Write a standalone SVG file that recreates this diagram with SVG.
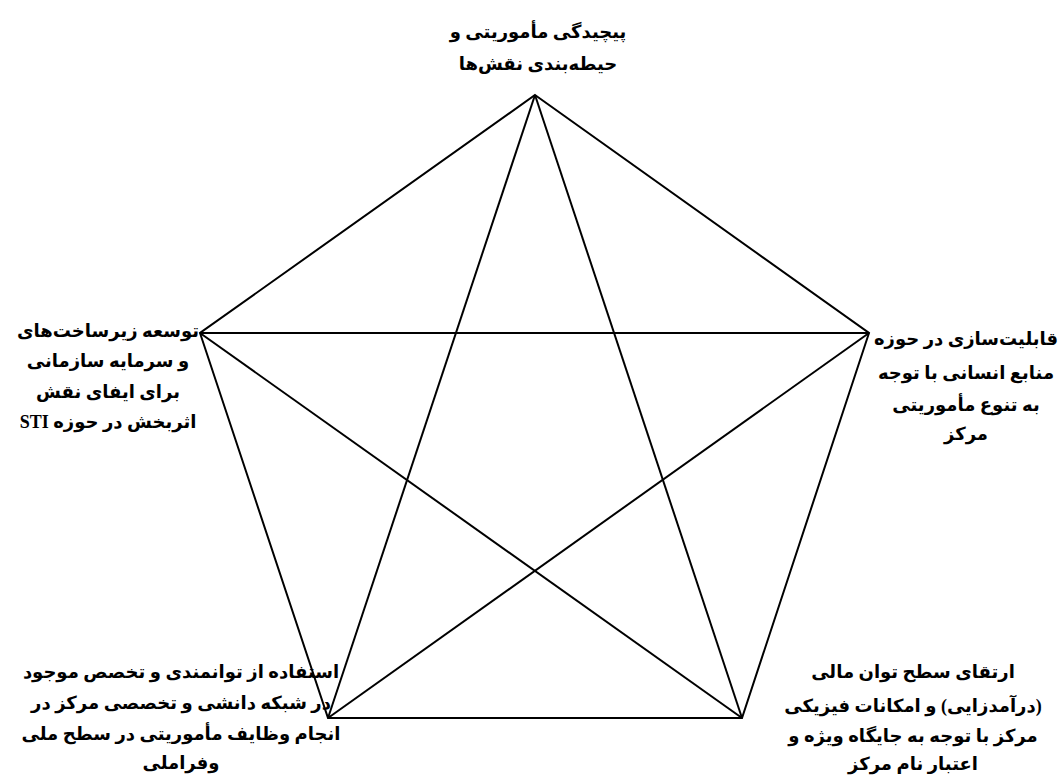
<svg xmlns="http://www.w3.org/2000/svg" width="1061" height="780" viewBox="0 0 1061 780">
<style>
.t{font-family:"Liberation Serif","DejaVu Sans",serif;font-weight:bold;font-size:18px;fill:#000;text-anchor:middle;direction:rtl;unicode-bidi:embed}
.e{stroke:#000;stroke-width:2;fill:none}
</style>
<rect width="1061" height="780" fill="#fff"/>
<g id="connectors">
<polygon class="e" points="535,95 869,333 742,718 328,718 200,333"/>
<line class="e" x1="535" y1="95" x2="328" y2="718"/>
<line class="e" x1="535" y1="95" x2="742" y2="718"/>
<line class="e" x1="200" y1="333" x2="869" y2="333"/>
<line class="e" x1="200" y1="333" x2="742" y2="718"/>
<line class="e" x1="869" y1="333" x2="328" y2="718"/>
</g>
<g id="node-top">
<text class="t" x="538" y="38">پیچیدگی مأموریتی و</text>
<text class="t" x="538" y="70">حیطه‌بندی نقش‌ها</text>
</g>
<g id="node-left">
<text class="t" x="108" y="337">توسعه زیرساخت‌های</text>
<text class="t" x="108" y="367">و سرمایه سازمانی</text>
<text class="t" x="108" y="398">برای ایفای نقش</text>
<text class="t" x="108" y="428">اثربخش در حوزه STI</text>
</g>
<g id="node-right">
<text class="t" x="966" y="345">قابلیت‌سازی در حوزه</text>
<text class="t" x="966" y="379">منابع انسانی با توجه</text>
<text class="t" x="966" y="411">به تنوع مأموریتی</text>
<text class="t" x="966" y="440">مرکز</text>
</g>
<g id="node-bottom-left">
<text class="t" x="181" y="678">استفاده از توانمندی و تخصص موجود</text>
<text class="t" x="181" y="709">در شبکه دانشی و تخصصی مرکز در</text>
<text class="t" x="181" y="740">انجام وظایف مأموریتی در سطح ملی</text>
<text class="t" x="181" y="769">وفراملی</text>
</g>
<g id="node-bottom-right">
<text class="t" x="913" y="678">ارتقای سطح توان مالی</text>
<text class="t" x="913" y="712">(درآمدزایی) و امکانات فیزیکی</text>
<text class="t" x="913" y="742">مرکز با توجه به جایگاه ویژه و</text>
<text class="t" x="913" y="770">اعتبار نام مرکز</text>
</g>
</svg>
